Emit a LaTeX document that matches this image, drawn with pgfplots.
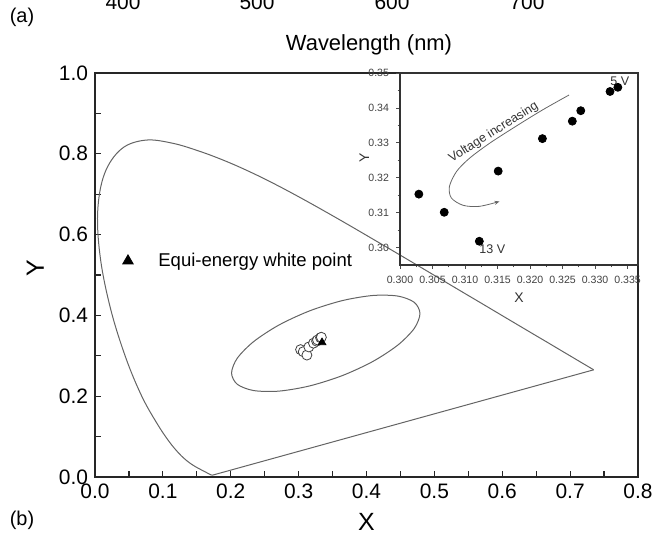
\documentclass[border=0pt]{standalone}
\usepackage{fontspec}
\setmainfont{Liberation Sans}
\usepackage{pgfplots}
\pgfplotsset{compat=1.18}
\usetikzlibrary{arrows.meta}

\definecolor{locus}{RGB}{100,100,100}

\begin{document}
\begin{tikzpicture}
% ---------------- main CIE chart ----------------
\begin{axis}[
  at={(0,0)}, anchor=south west,
  scale only axis, width=271.5bp, height=202bp,
  xmin=0, xmax=0.8, ymin=0, ymax=1,
  xtick={0,0.1,...,0.8}, ytick={0,0.2,...,1.0},
  minor xtick={0.05,0.15,...,0.76}, minor ytick={0.1,0.3,...,0.91},
  tick align=inside, major tick length=3bp, minor tick length=3bp,
  xtick pos=bottom, ytick pos=left,
  axis line style={line width=0.75bp, black!85},
  every tick/.style={line width=0.6bp, black!85},
  /pgf/number format/assume math mode=true,
  xticklabel style={/pgf/number format/fixed, /pgf/number format/fixed zerofill, /pgf/number format/precision=1},
  yticklabel style={/pgf/number format/fixed, /pgf/number format/fixed zerofill, /pgf/number format/precision=1},
  ticklabel style={font=\fontsize{10.5}{12}\selectfont},
  xlabel={X}, ylabel={Y},
  label style={font=\fontsize{12.5}{14}\selectfont},
  xlabel style={at={(axis description cs:0.5,-0.111)}, anchor=center},
  ylabel style={at={(axis description cs:-0.11,0.517)}, anchor=center},
]
% spectral locus (CIE 1931)
\addplot[locus, line width=0.5bp, smooth, tension=0.6] coordinates {
(0.1741,0.0050)(0.1740,0.0050)(0.1738,0.0049)(0.1736,0.0049)(0.1733,0.0048)
(0.1730,0.0048)(0.1726,0.0048)(0.1721,0.0048)(0.1714,0.0051)(0.1703,0.0058)
(0.1689,0.0069)(0.1669,0.0086)(0.1644,0.0109)(0.1611,0.0138)(0.1566,0.0177)
(0.1510,0.0227)(0.1440,0.0297)(0.1355,0.0399)(0.1241,0.0578)(0.1096,0.0868)
(0.0913,0.1327)(0.0687,0.2007)(0.0454,0.2950)(0.0235,0.4127)(0.0082,0.5384)
(0.0039,0.6548)(0.0139,0.7502)(0.0389,0.8120)(0.0743,0.8338)(0.1142,0.8262)
(0.1547,0.8059)(0.1929,0.7816)(0.2296,0.7543)(0.2658,0.7243)(0.3016,0.6923)
(0.3373,0.6589)(0.3731,0.6245)(0.4087,0.5896)(0.4441,0.5547)(0.4788,0.5202)
(0.5125,0.4866)(0.5448,0.4544)(0.5752,0.4242)(0.6029,0.3965)(0.6270,0.3725)
(0.6482,0.3514)(0.6658,0.3340)(0.6801,0.3197)(0.6915,0.3083)(0.7006,0.2993)
(0.7079,0.2920)(0.7140,0.2859)(0.7190,0.2809)(0.7230,0.2770)(0.7260,0.2740)
(0.7300,0.2700)(0.7320,0.2680)(0.7334,0.2666)(0.7344,0.2656)(0.7347,0.2653)
};
% line of purples
\addplot[locus, line width=0.5bp] coordinates {(0.7347,0.2653)(0.1741,0.0050)};
% ellipse
\addplot[locus, line width=0.5bp, smooth cycle] coordinates {
(0.4788,0.4045)(0.4704,0.4323)(0.4463,0.4478)(0.4094,0.4493)(0.3641,0.4365)
(0.3159,0.4110)(0.2706,0.3758)(0.2337,0.3351)(0.2096,0.2940)(0.2012,0.2573)
(0.2096,0.2295)(0.2337,0.2140)(0.2706,0.2125)(0.3159,0.2253)(0.3641,0.2508)
(0.4094,0.2860)(0.4463,0.3267)(0.4704,0.3678)
};
% measured chromaticity points
\addplot[only marks, mark=*, mark size=2.5bp, mark options={fill=white, draw=black!75, line width=0.4bp}] coordinates {
(0.3029,0.3153)(0.3068,0.3101)(0.3122,0.3018)(0.3151,0.3219)(0.3219,0.3312)
(0.3265,0.3362)(0.3278,0.3392)(0.3323,0.3447)(0.3335,0.3459)
};
% equi-energy white point
\addplot[only marks, mark=triangle*, mark size=2.2bp, black] coordinates {(0.3345,0.3330)};
% legend entry
\addplot[only marks, mark=triangle*, mark size=3bp, black] coordinates {(0.0486,0.535)};
\node[anchor=west, font=\fontsize{9.3}{11}\selectfont, inner sep=0pt] at (axis cs:0.0928,0.532) {Equi-energy white point};
\end{axis}

% ---------------- inset ----------------
\begin{axis}[
  at={(152.5bp,106bp)}, anchor=south west,
  scale only axis, width=119bp, height=96bp,
  xmin=0.300, xmax=0.3366, ymin=0.295, ymax=0.35,
  xtick={0.300,0.305,...,0.3355}, ytick={0.30,0.31,...,0.355},
  minor x tick num=1, minor y tick num=1,
  tick align=outside, major tick length=2bp, minor tick length=1.2bp,
  xtick pos=bottom, ytick pos=left,
  axis line style={line width=0.6bp, black!80},
  every tick/.style={line width=0.4bp, black!70},
  /pgf/number format/assume math mode=true,
  xticklabel style={/pgf/number format/fixed, /pgf/number format/fixed zerofill, /pgf/number format/precision=3},
  yticklabel style={/pgf/number format/fixed, /pgf/number format/fixed zerofill, /pgf/number format/precision=2},
  ticklabel style={font=\fontsize{5.3}{6}\selectfont, text=black!75},
  xlabel={X}, ylabel={Y},
  label style={font=\fontsize{7}{8}\selectfont, text=black!80},
  xlabel style={at={(axis description cs:0.5,-0.17)}, anchor=center},
  ylabel style={at={(axis description cs:-0.15,0.56)}, anchor=center},
  clip=false,
]
\addplot[only marks, mark=*, mark size=2bp, black] coordinates {
(0.3029,0.3153)(0.3068,0.3101)(0.3122,0.3018)(0.3151,0.3219)(0.3219,0.3312)
(0.3265,0.3362)(0.3278,0.3392)(0.3323,0.3447)(0.3335,0.3459)
};
\addplot[smooth, black!60, line width=0.4bp, -{Stealth[length=2.5bp, width=2bp]}] coordinates {
(0.3260,0.3437)(0.3219,0.3394)(0.3178,0.3347)(0.3138,0.3299)(0.3107,0.3256)
(0.3087,0.3218)(0.3076,0.3175)(0.3079,0.3142)(0.3097,0.3121)(0.3122,0.3118)(0.3153,0.3132)
};
\node[rotate=32, anchor=south, inner sep=0.5bp, font=\fontsize{6.3}{7}\selectfont, text=black!80] at (axis cs:0.3150,0.3312) {Voltage increasing};
\node[anchor=south, inner sep=0.5bp, font=\fontsize{6.3}{7}\selectfont, text=black!80] at (axis cs:0.3338,0.3460) {5 V};
\node[anchor=north west, inner sep=0.5bp, font=\fontsize{6.3}{7}\selectfont, text=black!80] at (axis cs:0.3120,0.3012) {13 V};
\end{axis}

% ---------------- panel texts ----------------
\begin{scope}[every node/.style={inner sep=0pt}]
\node[anchor=base, font=\fontsize{10.5}{12}\selectfont] at (14bp,233.5bp) {400};
\node[anchor=base, font=\fontsize{10.5}{12}\selectfont] at (81bp,233.5bp) {500};
\node[anchor=base, font=\fontsize{10.5}{12}\selectfont] at (148.5bp,233.5bp) {600};
\node[anchor=base, font=\fontsize{10.5}{12}\selectfont] at (216bp,233.5bp) {700};
\node[font=\fontsize{11}{12}\selectfont] at (137bp,216bp) {Wavelength (nm)};
\node[font=\fontsize{10}{12}\selectfont] at (-36.5bp,230bp) {(a)};
\node[font=\fontsize{10}{12}\selectfont] at (-36.5bp,-21.5bp) {(b)};
\end{scope}

\pgfresetboundingbox
\useasboundingbox (-47.5bp,-32bp) rectangle (284bp,238.5bp);
\end{tikzpicture}
\end{document}
